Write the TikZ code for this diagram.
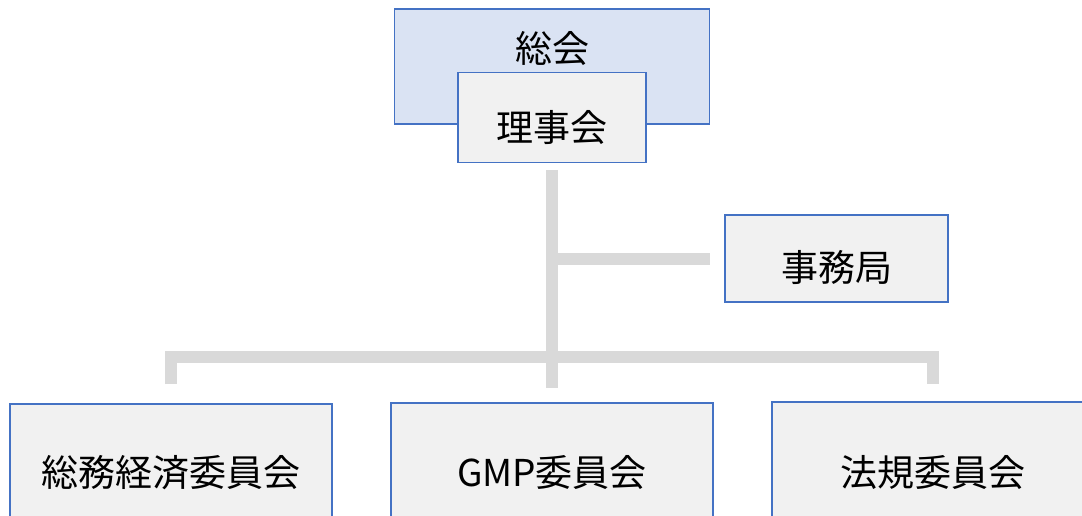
\documentclass[tikz,border=0pt]{standalone}
\usepackage{fontspec}
\newfontfamily\jpfont{Noto Sans CJK JP}
\definecolor{boxblue}{HTML}{4472C4}
\definecolor{fillblue}{HTML}{DAE3F3}
\definecolor{fillgray}{HTML}{F1F1F1}
\definecolor{linkgray}{HTML}{D9D9D9}
\tikzset{
  orgbox/.style={draw=boxblue, line width=1.5pt, fill=fillgray, rectangle, inner sep=0pt},
  topbox/.style={orgbox, fill=fillblue},
  orgtext/.style={font=\jpfont\fontsize{37}{40}\selectfont, anchor=base, inner sep=0pt, text=black},
  link/.style={draw=linkgray, line width=12pt, line cap=butt, line join=miter}
}
\begin{document}
\begin{tikzpicture}[x=1pt, y=-1pt]
\useasboundingbox (0,0) rectangle (1082,516);
% boxes
\node[topbox, minimum width=315pt, minimum height=115pt] (sokai) at (552,66.5) {};
\node[orgtext] (sokaitxt) at (552,63) {総会};
\node[orgbox, minimum width=188pt, minimum height=90pt] (rijikai) at (552,117.5) {};
\node[orgtext] (rijikaitxt) at (552,141.5) {理事会};
\node[orgbox, minimum width=223pt, minimum height=87pt] (jimu) at (836.5,258.5) {};
\node[orgtext] (jimutxt) at (836.5,281.5) {事務局};
\node[orgbox, minimum width=322pt, minimum height=140pt] (somu) at (171,474) {};
\node[orgtext] (somutxt) at (171,486) {総務経済委員会};
\node[orgbox, minimum width=322pt, minimum height=140pt] (gmp) at (552,473) {};
\node[orgtext] (gmptxt) at (552,486) {GMP委員会};
\node[orgbox, minimum width=342pt, minimum height=140pt] (hoki) at (943,472) {};
\node[orgtext] (hokitxt) at (933,486) {法規委員会};
% connector points
\coordinate (trunktop) at (552,170);
\coordinate (trunkbot) at (552,388);
\coordinate (branchstart) at (552,258.5);
\coordinate (branchend) at (710,258.5);
\coordinate (barleft) at (171,384);
\coordinate (barright) at (933,384);
% connectors
\draw[link] (trunktop) -- (trunkbot);
\draw[link] (branchstart) -- (branchend);
\draw[link] (barleft) -- (171,356.5) -- (933,356.5) -- (barright);
\end{tikzpicture}
\end{document}
